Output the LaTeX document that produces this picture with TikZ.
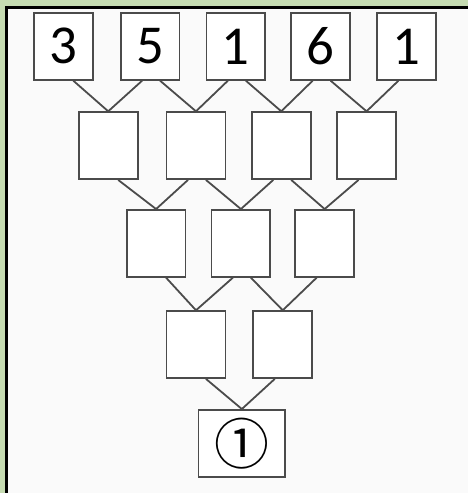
\documentclass[tikz,border=0pt]{standalone}
\usepackage{fontspec}
\setmainfont{Carlito}
\newfontfamily\circfont{Noto Sans CJK JP}
\usepackage{xcolor}
\usepackage{tikz}
\usetikzlibrary{positioning}

\definecolor{slidegreen}{RGB}{198,220,178}
\definecolor{boxline}{RGB}{75,75,75}

\begin{document}
\begin{tikzpicture}[
    x=1pt, y=-1pt,
    box/.style={rectangle, draw=boxline, line width=1.8pt, fill=white, minimum width=59pt, minimum height=67pt, inner sep=0pt, font=\fontsize{55}{60}\selectfont},
    widebox/.style={box, minimum width=87pt},
    link/.style={draw=boxline, line width=1.8pt, line join=miter},
]

% background and panel
\fill[slidegreen] (0,0) rectangle (469,494);
\fill[white!98!black] (5,6) rectangle (469,494);
\draw[black, line width=2.6pt] (6.3,494) -- (6.3,7.3) -- (469,7.3);
\useasboundingbox (0,0) rectangle (469,494);

% row 1
\node[box] (t1) at (63.5, 46.5) {3};
\node[box] (t2) at (150.5, 46.5) {5};
\node[box] (t3) at (236.5, 46.5) {1};
\node[box] (t4) at (321.5, 46.5) {6};
\node[box] (t5) at (407.5, 46.5) {1};

% row 2
\node[box] (m1) at (108.5, 146) {};
\node[box] (m2) at (196.5, 146) {};
\node[box] (m3) at (282, 146) {};
\node[box] (m4) at (367.5, 146) {};

% row 3
\node[box] (n1) at (156.5, 244) {};
\node[box] (n2) at (241.5, 244) {};
\node[box] (n3) at (325.5, 244) {};

% row 4
\node[box] (p1) at (196.5, 345.5) {};
\node[box] (p2) at (283.5, 345.5) {};

% row 5
\node[widebox] (res) at (242.5, 444.5) {\circfont\fontsize{55}{60}\selectfont ①};

% links
\path[link] ([xshift=10pt]t1.south) -- (m1.north) -- ([xshift=-8pt]t2.south);
\path[link] ([xshift=10pt]t2.south) -- (m2.north) -- ([xshift=-8pt]t3.south);
\path[link] ([xshift=10pt]t3.south) -- (m3.north) -- ([xshift=-8pt]t4.south);
\path[link] ([xshift=10pt]t4.south) -- (m4.north) -- ([xshift=-8pt]t5.south);

\path[link] ([xshift=10pt]m1.south) -- (n1.north) -- ([xshift=-8pt]m2.south);
\path[link] ([xshift=10pt]m2.south) -- (n2.north) -- ([xshift=-8pt]m3.south);
\path[link] ([xshift=10pt]m3.south) -- (n3.north) -- ([xshift=-8pt]m4.south);

\path[link] ([xshift=10pt]n1.south) -- (p1.north) -- ([xshift=-8pt]n2.south);
\path[link] ([xshift=10pt]n2.south) -- (p2.north) -- ([xshift=-8pt]n3.south);

\path[link] ([xshift=10pt]p1.south) -- (res.north) -- ([xshift=-8pt]p2.south);

\end{tikzpicture}
\end{document}
